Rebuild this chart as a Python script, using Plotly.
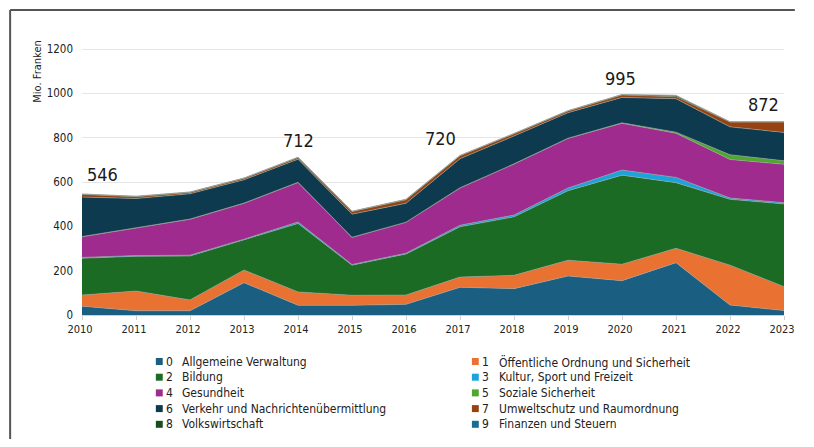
import plotly.graph_objects as go

years = list(range(2010, 2024))

names = [
    "Allgemeine Verwaltung",
    "Öffentliche Ordnung und Sicherheit",
    "Bildung",
    "Kultur, Sport und Freizeit",
    "Gesundheit",
    "Soziale Sicherheit",
    "Verkehr und Nachrichtenübermittlung",
    "Umweltschutz und Raumordnung",
    "Volkswirtschaft",
    "Finanzen und Steuern",
]
codes = ["0", "1", "2", "3", "4", "5", "6", "7", "8", "9"]

s0 = [40, 19, 19, 146, 44, 44, 48, 125, 119, 176, 155, 236, 45, 20]
s1 = [50, 89, 49, 57, 60, 45, 42, 46, 60, 71, 74, 65, 180, 108]
s2 = [166, 157, 198, 135, 309, 136, 185, 227, 264, 314, 402, 296, 297, 373]
s3 = [4, 3, 4, 4, 7, 3, 4, 7, 8, 12, 23, 24, 6, 6]
s4 = [93, 123, 162, 162, 178, 122, 139, 168, 230, 224, 211, 199, 174, 173]
s5 = [1, 1, 1, 1, 1, 1, 1, 1, 1, 1, 2, 5, 21, 16]
s6 = [178, 134, 114, 105, 104, 104, 85, 131, 126, 115, 115, 151, 126, 128]
s7 = [12, 8, 6, 7, 7, 12, 16, 14, 10, 8, 11, 9, 22, 47]
s8 = [2, 2, 2, 1, 2, 1, 2, 1, 1, 1, 2, 6, 1, 1]
s9 = [0, 0, 0, 0, 0, 0, 0, 0, 0, 0, 0, 0, 0, 0]

series = [s0, s1, s2, s3, s4, s5, s6, s7, s8, s9]
labeled_years = [2010, 2014, 2017, 2020, 2023]

colors = ["#1a5e82", "#e97132", "#1c6b24", "#1ba4db", "#a02b8f",
          "#4ea72e", "#0e3a4f", "#974211", "#1a4d1c", "#176e91"]

FONT = "Liberation Sans Narrow, DejaVu Sans Condensed, Arial Narrow, Roboto, sans-serif"

fig = go.Figure()
for i, vals in enumerate(series):
    fig.add_trace(go.Scatter(
        x=years, y=vals, name=f"{codes[i]} {names[i]}",
        mode="lines", stackgroup="one",
        line=dict(width=0.6, color="#9aa39a"),
        fillcolor=colors[i], showlegend=False, hoverinfo="skip",
    ))

totals = [sum(s[k] for s in series) for k in range(len(years))]

lab_style = {2010: ("left", 3, 20), 2014: ("center", 0, 17), 2017: ("right", -2, 17),
             2020: ("center", -2, 16), 2023: ("right", -3, 17)}
for yr in labeled_years:
    k = years.index(yr)
    anc, xs, ys = lab_style[yr]
    fig.add_annotation(x=yr, y=totals[k], text=str(totals[k]), showarrow=False,
                       xanchor=anc, yanchor="middle", xshift=xs, yshift=ys,
                       font=dict(family=FONT, size=18, color="#1a1a1a"))

# page body has an 8px margin; work in page pixel coordinates
OFF = 8
W, H = 814 - 2 * OFF, 447 - 2 * OFF
L = 82 - OFF
R = W - (795 - OFF)
T = 38 - OFF
B = H - (315 - OFF)
pw, ph = W - L - R, H - T - B
def px(xp):
    return (xp - OFF - L) / pw
def py(yp):
    return (H - B - (yp - OFF)) / ph

for i in range(len(series)):
    row, col = i // 2, i % 2
    yc = 361.5 + row * 15.7
    x0 = 157 if col == 0 else 478
    fig.add_shape(type="rect", xref="paper", yref="paper",
                  x0=px(x0), x1=px(x0 + 7), y0=py(yc + 3.5), y1=py(yc - 3.5),
                  fillcolor=colors[i], line=dict(width=0))
    fig.add_annotation(xref="paper", yref="paper", x=px(x0 + 8.5), y=py(yc),
                       text=codes[i], showarrow=False, xanchor="left", yanchor="middle",
                       font=dict(family=FONT, size=12, color="#222"))
    fig.add_annotation(xref="paper", yref="paper", x=px(x0 + 25), y=py(yc),
                       text=names[i], showarrow=False, xanchor="left", yanchor="middle",
                       font=dict(family=FONT, size=12, color="#222"))

fig.add_annotation(xref="paper", yref="paper", x=px(37), y=py(72), text="Mio. Franken",
                   textangle=-90, showarrow=False, xanchor="center", yanchor="middle",
                   font=dict(family=FONT, size=11, color="#222"))

fig.add_shape(type="line", xref="paper", yref="paper", x0=px(9), x1=px(806),
              y0=py(10), y1=py(10), line=dict(color="#555", width=2))
fig.add_shape(type="line", xref="paper", yref="paper", x0=px(9), x1=px(9),
              y0=py(10), y1=py(439), line=dict(color="#555", width=2))

fig.update_layout(
    width=W, height=H,
    margin=dict(l=L, r=R, t=T, b=B, pad=0),
    paper_bgcolor="white", plot_bgcolor="white",
    font=dict(family=FONT, size=12, color="#222"),
    showlegend=False,
)
fig.update_xaxes(range=[2010, 2023], tickmode="linear", dtick=1, showgrid=False,
                 ticks="outside", ticklen=4, tickcolor="#d0d0d0",
                 showline=True, linecolor="#d0d0d0", zeroline=False,
                 ticklabelshift=-2,
                 tickfont=dict(family=FONT, size=11, color="#222"))
fig.update_yaxes(range=[0, 1250], tickvals=[0, 200, 400, 600, 800, 1000, 1200],
                 showgrid=True, gridcolor="#e6e6e6", zeroline=False, ticks="",
                 ticklabelstandoff=8,
                 tickfont=dict(family=FONT, size=11.5, color="#222"))

fig.write_html("out.html", config={"displayModeBar": False})
